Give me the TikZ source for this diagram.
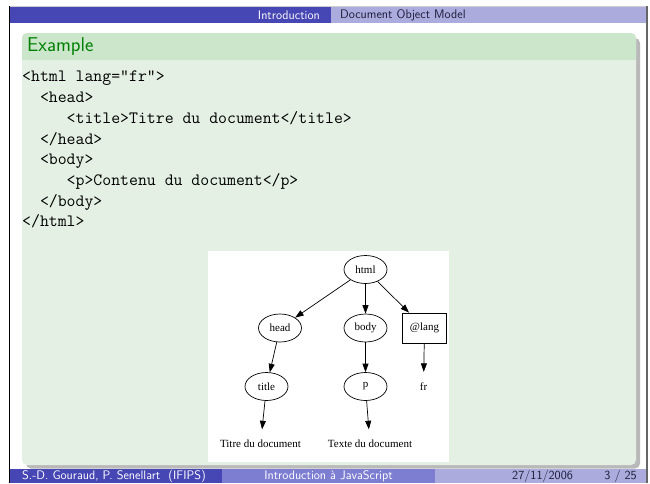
\documentclass[tikz,border=0pt]{standalone}
\usepackage{fontspec}
\newfontfamily\gvfont{Liberation Serif}
\usetikzlibrary{shapes.geometric,arrows.meta}

\begin{document}
\begin{tikzpicture}[x=1pt,y=-1pt,
		knoten/.style={draw,ellipse,line width=0.7,minimum width=43,minimum height=28,inner sep=0,font=\gvfont\fontsize{11}{13}\selectfont},
		kasten/.style={draw,rectangle,line width=0.7,minimum width=44,minimum height=30,inner sep=0,font=\gvfont\fontsize{11}{13}\selectfont},
		blatt/.style={inner sep=0,minimum height=29,font=\gvfont\fontsize{11}{13}\selectfont},
		kante/.style={-{Triangle[length=8.5pt,width=6pt]},line width=0.7},
		leiste/.style={inner sep=0,font=\sffamily\fontsize{12.4}{14}\selectfont}]

		\definecolor{kopfdunkel}{HTML}{4646B4}
		\definecolor{fussmitte}{HTML}{7D7DD2}
		\definecolor{kopfhell}{HTML}{ABABDE}
		\definecolor{blocktitel}{HTML}{CCE6CC}
		\definecolor{blockrumpf}{HTML}{E4F0E4}
		\definecolor{titelgruen}{HTML}{008000}
		\definecolor{schrift}{HTML}{1C1C38}
		\definecolor{rand}{HTML}{666666}

		\useasboundingbox[fill=white] (0,0) rectangle (650,483);

		% Rahmen
		\draw[gray!40, line width=1] (9,6) -- (648,6);
		\draw[black, line width=1] (9,6) -- (9,483);
		\draw[rand, line width=2.5] (646.75,6) -- (646.75,483);

		% Kopfzeile
		\fill[kopfdunkel] (9.5,7) rectangle (331,23);
		\fill[kopfhell] (331,7) rectangle (645.5,23);
		\node[leiste, text=white, anchor=east] (abschnitt) at (320,15) {Introduction};
		\node[leiste, text=schrift, anchor=west] (unterabschnitt) at (340,15) {Document Object Model};

		% Block
		\fill[gray!55, rounded corners=5] (26,38) rectangle (640,468.5);
		\fill[blockrumpf, rounded corners=5] (22,33) rectangle (636,465);
		\fill[blocktitel, rounded corners=5] (22,33) rectangle (636,60);
		\fill[blocktitel] (22,50) rectangle (636,60);
		\node[inner sep=0, anchor=west, text=titelgruen, font=\sffamily\fontsize{20}{24}\selectfont] (beispiel) at (27,47) {Example};

		% Quelltext
		\node[inner sep=0, anchor=north west, align=left, font=\ttfamily\fontsize{17.3}{20.7}\selectfont] (quelle) at (22,71) {%
			<html lang="fr">\\
			~~<head>\\
			~~~~~<title>Titre du document</title>\\
			~~</head>\\
			~~<body>\\
			~~~~~<p>Contenu du document</p>\\
			~~</body>\\
			</html>};

		% Graph
		\fill[white] (207.5,251) rectangle (449,462);
		\node[knoten] (html) at (365.5,269.5) {html};
		\node[knoten] (head) at (280,328) {head};
		\node[knoten] (body) at (365.5,328) {body};
		\node[kasten] (lang) at (424.5,328) {@lang};
		\node[knoten] (title) at (266.5,386.5) {title};
		\node[knoten] (p) at (365.5,386.5) {p};
		\node[blatt] (fr) at (423.5,386.5) {fr};
		\node[blatt] (titre) at (260.5,444) {Titre du document};
		\node[blatt] (texte) at (370,444) {Texte du document};
		% Kanten
		\foreach \a/\b in {html/head,html/body,html/lang,head/title,body/p,lang/fr,title/titre,p/texte}
			\draw[kante] (\a) -- (\b);

		% Fusszeile
		\fill[kopfdunkel] (9.5,468.5) rectangle (222,483);
		\fill[fussmitte] (222,468.5) rectangle (435,483);
		\fill[kopfhell] (435,468.5) rectangle (645.5,483);
		\node[leiste, text=white, anchor=west] (autor) at (22,476) {S.-D. Gouraud, P. Senellart~~(IFIPS)};
		\node[leiste, text=white] (vortrag) at (328.5,476) {Introduction à JavaScript};
		\node[leiste, text=schrift, anchor=west] (datum) at (512,476) {27/11/2006};
		\node[leiste, text=schrift, anchor=east] (seite) at (637,476) {3 / 25};

	\end{tikzpicture}
\end{document}
